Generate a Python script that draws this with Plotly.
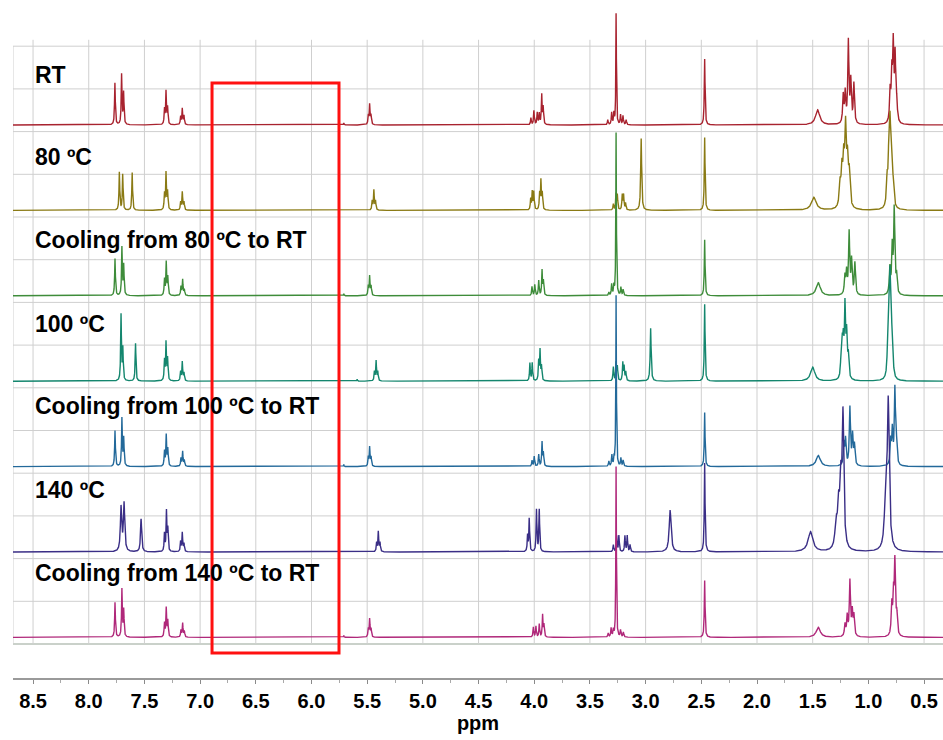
import numpy as np
import plotly.graph_objects as go

# ---------------- data ----------------
labels = ["RT", "80 ºC", "Cooling from 80 ºC to RT", "100 ºC",
          "Cooling from 100 ºC to RT", "140 ºC", "Cooling from 140 ºC to RT"]
colors = ["#A8232F", "#8A7A14", "#3E8C3A", "#14866E", "#23699A", "#3A2E86", "#B0287A"]

# peak lists: (ppm, intensity, half width at half maximum in ppm)
peaks_rt = [
    (7.765, 42, .004), (7.705, 50, .004), (7.687, 32, .004),
    (7.320, 15, .004), (7.306, 33, .004), (7.292, 17, .004),
    (7.175, 8, .004), (7.160, 16, .004), (7.145, 9, .004),
    (5.490, 9, .004), (5.478, 20, .004), (5.466, 9, .004), (5.710, 2, .003),
    (4.030, 7, .004), (4.003, 14, .004), (3.973, 12, .004), (3.955, 11, .004),
    (3.933, 30, .004), (3.920, 17, .004),
    (3.265, 112, .003),
    (3.340, 5, .004), (3.305, 12, .004), (3.285, 11, .004), (3.225, 10, .004),
    (3.203, 9, .004), (3.175, 5, .004),
    (2.470, 66, .004),
    (1.456, 15, .022),
    (1.226, 28, .006), (1.208, 30, .006), (1.180, 82, .006), (1.158, 42, .006), (1.130, 40, .006),
    (0.805, 30, .006), (0.790, 45, .006), (0.777, 75, .006), (0.760, 65, .006), (0.745, 18, .006),
]
peaks_80 = [
    (7.725, 38, .004), (7.695, 36, .004), (7.610, 38, .004),
    (7.320, 16, .004), (7.306, 37, .004), (7.292, 18, .004),
    (7.175, 8, .004), (7.160, 18, .004), (7.145, 8, .004),
    (5.455, 9, .004), (5.440, 20, .004), (5.425, 9, .004),
    (4.032, 11, .004), (4.018, 18, .004), (4.004, 18, .004),
    (3.952, 16, .004), (3.940, 29, .004), (3.928, 16, .004),
    (3.290, 6, .004), (3.266, 16, .004), (3.254, 15, .004),
    (3.210, 15, .004), (3.198, 15, .004), (3.180, 7, .004),
    (3.040, 72, .005),
    (2.470, 73, .004),
    (1.490, 13, .025),
    (1.255, 22, .008), (1.238, 34, .008), (1.222, 42, .008), (1.205, 75, .008),
    (1.188, 42, .008), (1.172, 32, .008),
    (0.832, 26, .007), (0.816, 48, .007), (0.806, 66, .007), (0.794, 58, .007), (0.778, 20, .007),
]
peaks_c80 = [
    (7.764, 37, .004), (7.702, 48, .004), (7.686, 30, .004),
    (7.320, 16, .004), (7.304, 33, .004), (7.290, 18, .004),
    (7.172, 9, .004), (7.157, 16, .004), (7.142, 6, .004),
    (5.490, 9, .004), (5.478, 19, .004), (5.465, 9, .004), (5.710, 2, .003),
    (4.020, 9, .004), (3.995, 11, .004), (3.960, 15, .004), (3.930, 25, .004), (3.918, 14, .004),
    (3.265, 164, .003),
    (3.330, 3, .004), (3.305, 11, .004), (3.285, 9, .004), (3.222, 8, .004), (3.202, 6, .004),
    (2.470, 56, .004),
    (1.450, 13, .022),
    (1.211, 18, .006), (1.196, 22, .006), (1.173, 62, .006), (1.151, 34, .006), (1.121, 32, .006),
    (0.807, 26, .006), (0.786, 46, .006), (0.768, 85, .006), (0.747, 18, .006),
]
peaks_100 = [
    (7.710, 66, .004), (7.694, 32, .004), (7.580, 38, .004),
    (7.320, 20, .004), (7.306, 38, .004), (7.292, 22, .004),
    (7.175, 9, .004), (7.160, 19, .004), (7.145, 8, .004),
    (5.435, 9, .004), (5.420, 20, .004), (5.405, 9, .004), (5.590, 2, .003),
    (4.039, 18, .004), (4.018, 18, .004), (3.960, 19, .004), (3.948, 30, .004), (3.935, 14, .004),
    (3.290, 14, .004), (3.266, 18, .004), (3.254, 14, .004),
    (3.205, 18, .004), (3.193, 14, .004), (3.178, 9, .004),
    (2.955, 53, .005),
    (2.470, 77, .004),
    (1.500, 14, .022),
    (1.245, 18, .006), (1.235, 30, .006), (1.225, 32, .006), (1.210, 70, .006),
    (1.195, 42, .006), (1.180, 22, .006),
    (0.825, 38, .006), (0.815, 52, .006), (0.806, 82, .006), (0.795, 54, .006), (0.783, 30, .006),
]
peaks_c100 = [
    (7.764, 36, .004), (7.702, 48, .004), (7.686, 28, .004),
    (7.320, 15, .004), (7.304, 31, .004), (7.290, 17, .004),
    (7.172, 8, .004), (7.157, 15, .004), (7.142, 6, .004),
    (5.490, 9, .004), (5.478, 19, .004), (5.465, 9, .004), (5.710, 2, .003),
    (4.020, 6, .004), (4.000, 10, .004), (3.960, 12, .004), (3.930, 24, .004), (3.918, 13, .004),
    (3.265, 172, .003),
    (3.330, 5, .004), (3.303, 11, .004), (3.283, 8, .004), (3.222, 8, .004), (3.202, 6, .004),
    (2.470, 54, .004),
    (1.450, 11, .022),
    (1.220, 22, .006), (1.205, 26, .006), (1.166, 58, .006), (1.142, 30, .006), (1.125, 20, .006),
    (0.800, 24, .006), (0.785, 34, .006), (0.762, 76, .006), (0.748, 20, .006),
]
peaks_140 = [
    (7.710, 44, .007), (7.683, 48, .007), (7.530, 33, .006),
    (7.320, 18, .004), (7.302, 40, .004), (7.290, 22, .004),
    (7.175, 10, .004), (7.160, 19, .004), (7.145, 8, .004),
    (5.415, 9, .004), (5.400, 20, .004), (5.385, 9, .004),
    (4.060, 16, .004), (4.045, 33, .004), (3.980, 42, .004), (3.955, 42, .004),
    (3.290, 7, .004), (3.260, 16, .004), (3.240, 16, .004),
    (3.186, 16, .004), (3.165, 16, .004), (3.140, 7, .004),
    (2.780, 42, .010),
    (2.470, 89, .004),
    (1.520, 20, .025),
    (1.290, 24, .012), (1.268, 38, .010), (1.248, 60, .010), (1.228, 130, .009),
    (0.848, 36, .012), (0.822, 150, .011),
]
peaks_c140 = [
    (7.764, 35, .004), (7.702, 48, .004), (7.686, 27, .004),
    (7.320, 14, .004), (7.304, 29, .004), (7.290, 16, .004),
    (7.172, 7, .004), (7.157, 14, .004), (7.142, 6, .004),
    (5.490, 8, .004), (5.478, 18, .004), (5.465, 8, .004), (5.710, 2, .003),
    (4.008, 10, .004), (3.985, 11, .004), (3.955, 13, .004), (3.925, 22, .004), (3.913, 12, .004),
    (3.265, 172, .003),
    (3.336, 4, .004), (3.310, 9, .004), (3.290, 7, .004), (3.225, 7, .004), (3.200, 5, .004),
    (2.470, 57, .004),
    (1.450, 10, .022),
    (1.210, 12, .006), (1.190, 20, .006), (1.166, 55, .006), (1.145, 24, .006), (1.130, 20, .006),
    (0.790, 30, .006), (0.775, 38, .006), (0.762, 72, .006), (0.745, 20, .006),
]
spectra = [peaks_rt, peaks_80, peaks_c80, peaks_100, peaks_c100, peaks_140, peaks_c140]

tick_vals = [8.5, 8.0, 7.5, 7.0, 6.5, 6.0, 5.5, 5.0, 4.5, 4.0, 3.5, 3.0, 2.5, 2.0, 1.5, 1.0, 0.5]
tick_text = [f"{v:.1f}" for v in tick_vals]
highlight_box = (6.893, 5.753)  # ppm range of the red box

# ---------------- layout parameters ----------------
X_LEFT, X_RIGHT = 8.68, 0.33
PX_PER_UNIT = 42.7                     # pixels per grid row
N_ROWS = 14
Y_MIN, Y_MAX = -34 / PX_PER_UNIT, 644 / PX_PER_UNIT
BASE_OFFSET = 0.155
STEP = 2.0

x = np.linspace(X_LEFT, X_RIGHT, 12000)

fig = go.Figure()

shapes = []
for k in range(N_ROWS + 1):
    shapes.append(dict(type="line", xref="x", yref="y", x0=X_LEFT, x1=X_RIGHT, y0=k, y1=k,
                       line=dict(color="#b9c2b9" if k == 0 else "#cfcfcf", width=1.6 if k == 0 else 1),
                       layer="below"))
for v in tick_vals:
    shapes.append(dict(type="line", xref="x", yref="y", x0=v, x1=v, y0=0, y1=N_ROWS + 0.15,
                       line=dict(color="#cfcfcf", width=1), layer="below"))
shapes.append(dict(type="line", xref="x", yref="y", x0=X_LEFT, x1=X_LEFT, y0=0, y1=N_ROWS,
                   line=dict(color="#cfcfcf", width=1), layer="below"))

n = len(spectra)
for i, (pk, col) in enumerate(zip(spectra, colors)):
    base = BASE_OFFSET + STEP * (n - 1 - i)
    y = np.zeros_like(x)
    for p, h, w in pk:
        y += h / (1 + ((x - p) / w) ** 2)
    fig.add_trace(go.Scatter(x=x, y=base + y / PX_PER_UNIT, mode="lines",
                             line=dict(color=col, width=1.4), hoverinfo="skip",
                             showlegend=False))

label_y = [13.33, 11.40, 9.46, 7.49, 5.57, 3.60, 1.66]
annotations = []
for lab, ly in zip(labels, label_y):
    annotations.append(dict(text=lab, x=8.5, y=ly, xref="x", yref="y", xanchor="left",
                            yanchor="middle", showarrow=False,
                            font=dict(family="Liberation Sans, Arial, sans-serif", size=23,
                                      color="black", weight="bold")))

shapes.append(dict(type="rect", xref="x", yref="y", x0=highlight_box[0], x1=highlight_box[1],
                   y0=-0.21, y1=13.14, line=dict(color="#ff1010", width=3), layer="above"))

axfont = "Liberation Sans Narrow, Arial Narrow, Liberation Sans, Arial, sans-serif"
fig.update_layout(
    width=943, height=740,
    margin=dict(l=13, r=0, t=0, b=62, autoexpand=False),
    paper_bgcolor="white", plot_bgcolor="white",
    shapes=shapes, annotations=annotations,
    xaxis=dict(range=[X_LEFT, X_RIGHT], tickvals=tick_vals, ticktext=tick_text,
               ticks="outside", ticklen=4, tickwidth=1, tickcolor="#8a8a8a",
               showline=True, linecolor="#9a9a9a", linewidth=2,
               showgrid=False, zeroline=False, automargin=False,
               minor=dict(tickvals=[v - 0.25 for v in tick_vals] + [8.75], ticks="outside",
                          ticklen=3, tickcolor="#aaaaaa"),
               tickfont=dict(family=axfont, size=20, color="black", weight="bold"),
               title=dict(text="ppm", standoff=5,
                          font=dict(family=axfont, size=20, color="black", weight="bold"))),
    yaxis=dict(range=[Y_MIN, Y_MAX], visible=False, showgrid=False, zeroline=False),
)

fig.write_html("out.html", config={"displayModeBar": False},
               post_script="document.body.style.margin='0';")
